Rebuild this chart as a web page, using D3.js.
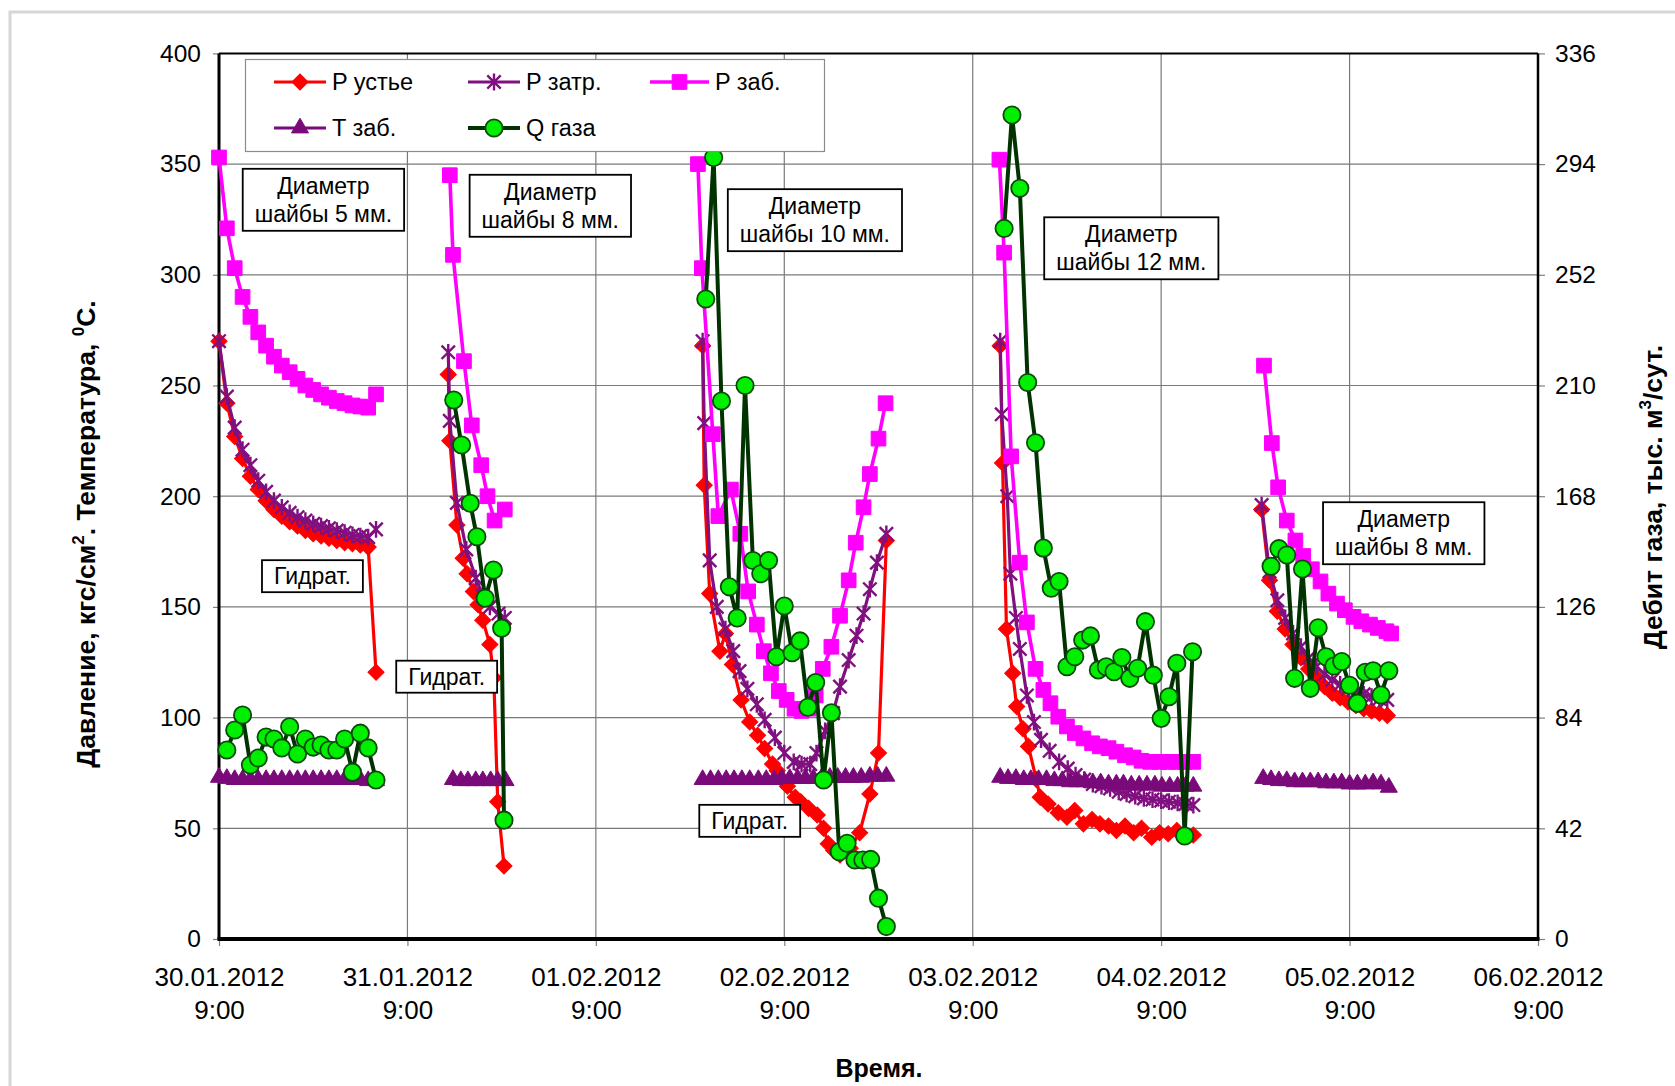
<!DOCTYPE html>
<html>
<head>
<meta charset="utf-8">
<script src="https://cdnjs.cloudflare.com/ajax/libs/d3/7.8.5/d3.min.js"></script>
<style>
  html, body { margin: 0; padding: 0; background: #fff; }
  svg { display: block; font-family: "Liberation Sans", Arial, sans-serif; }
</style>
</head>
<body>
<svg id="chart" width="1675" height="1086"></svg>
<script>
// ---- Axis settings -------------------------------------------------------
const dayLabels = ["30.01.2012", "31.01.2012", "01.02.2012", "02.02.2012",
                   "03.02.2012", "04.02.2012", "05.02.2012", "06.02.2012"];
const timeLabel = "9:00";
const leftTicks = [0, 50, 100, 150, 200, 250, 300, 350, 400];
const rightTicks = [0, 42, 84, 126, 168, 210, 252, 294, 336];

// Measurements: [hours since 30.01.2012 9:00, value]; one inner array per flow period.
const pUstye = [
  [[0,270],[1,242],[2,227],[3,217],[4,209],[5,203],[6,198],[7,194],[8,191],[9,188.5],[10,186.5],
   [11,184.5],[12,183],[13,182],[14,181],[15,180],[16,179],[17,178.5],[18,178],[19,177],[20,120.5]],
  [[29.2,255],[29.4,225],[30.3,187],[31.1,172],[31.6,165],[32.4,157],[33.0,151],[33.6,144],
   [34.5,133],[35.0,118],[35.5,62],[36.3,33]],
  [[61.6,268],[61.8,205],[62.5,156],[63.8,130],[64.5,138],[65.4,124],[66.5,108],[67.6,98],
   [68.6,92],[69.5,86],[70.5,79],[71.1,76],[72.4,69],[73.4,64],[74.1,62],[75.1,59],[76.2,56],
   [77.0,50],[77.6,43],[78.3,40],[79.1,38],[80.4,41],[81.6,48],[82.9,65.5],[84.0,84],[85.0,180]],
  [[99.5,268],[99.8,215],[100.3,140],[101.1,120],[101.6,105],[102.4,95],[103.1,87],[104.1,72],
   [104.6,64],[105.6,61],[106.9,57],[108,55],[109,58],[110.1,52],[111.2,54],[112.2,52],[113.3,51],
   [114.3,49],[115.4,51],[116.5,48],[117.5,50],[118.8,46],[119.8,48],[120.9,47.5],[122,49],
   [123,47.5],[124.1,47]],
  [[132.8,194],[133.8,162],[134.8,148],[135.8,140],[136.8,133],[137.8,127],[138.8,122],[139.8,118],
   [140.8,114],[141.8,111],[142.8,109],[143.8,107],[144.8,105.5],[145.8,104],[146.8,103],
   [147.8,102],[148.8,101]]
];

const pZatr = [
  [[0,270],[1,245],[2,231],[3,221],[4,214],[5,207],[6,202],[7,198],[8,195],[9,192.5],[10,190.5],
   [11,189],[12,187.5],[13,186.5],[14,185.5],[15,184.5],[16,183.5],[17,182.5],[18,182],[19,181.5],[20,185]],
  [[29.2,265],[29.4,234],[30.3,197],[31.5,176],[32.7,163],[33.6,155],[34.5,150],[35.6,147],[36.4,145]],
  [[61.6,270],[61.8,233],[62.5,171],[63.4,150],[64.5,140],[65.5,130],[66.3,121],[67.3,113],
   [68.5,106],[69.5,99],[70.8,91],[72,84],[73.2,80],[74.2,79],[75.3,79],[76.1,84],[77.2,94],
   [78.2,102],[79.1,114],[80.2,126],[81.2,137],[82.1,147],[82.9,158],[83.8,170],[85,183]],
  [[99.5,270],[99.7,237],[100.4,200],[100.8,165],[101.5,145],[102,131],[102.9,110],[103.8,98],
   [104.7,90],[105.8,85],[107,80],[108.1,77],[109.1,74],[110.2,72],[111.3,70],[112.4,69],
   [113.5,68],[114.6,66.5],[115.6,65.5],[116.7,64.5],[117.8,63.5],[118.9,63],[120,62.5],
   [121,62],[122.1,61.5],[123.1,61],[124.1,60.5]],
  [[132.8,196],[133.8,166],[134.8,153],[135.8,145],[136.8,138],[137.8,132],[138.8,127],[139.8,123],
   [140.8,119.5],[141.8,117],[142.8,115],[143.8,113],[144.8,111.5],[145.8,110.5],[146.8,109.5],
   [147.8,108.5],[148.8,108]]
];

const pZab = [
  [[0,353],[1,321],[2,303],[3,290],[4,281],[5,274],[6,268],[7,263],[8,259],[9,256],[10,253],
   [11,250],[12,248],[13,246],[14,244.5],[15,243],[16,242],[17,241],[18,240.5],[19,240],[20,246]],
  [[29.4,345],[29.8,309],[31.2,261],[32.2,232],[33.4,214],[34.2,200],[35.1,189],[36.4,194]],
  [[61.0,350],[61.5,303],[62.9,228],[63.6,191],[65.2,203],[66.4,183],[67.4,157],[68.5,142],
   [69.4,130],[70.3,120],[71.3,112],[72.3,108],[73.3,104],[74.2,103],[75.1,104],[76.0,110],
   [76.9,122],[78.0,132],[79.1,146],[80.2,162],[81.1,179],[82.1,195],[82.9,210],[84.0,226],[84.9,242]],
  [[99.4,352],[100,310],[100.9,218],[102,170],[102.9,143],[104,122],[105,112.5],[105.9,106.5],
   [106.9,100.4],[108,96],[109,93],[110.1,90.6],[111.2,88.4],[112.2,87],[113.3,86.2],[114.3,84.6],
   [115.4,83],[116.5,82],[117.5,80.5],[118.6,80],[119.8,80],[120.9,80],[122,80],[123,80],[124.1,80]],
  [[133.1,259],[134.1,224],[134.9,204],[136,189],[137.1,180],[138.1,173],[139.2,167],[140.3,161.5],
   [141.3,156],[142.4,151.5],[143.4,148.5],[144.5,145.5],[145.5,143.5],[146.6,142],[147.6,140.5],
   [148.7,139],[149.3,138]]
];

const tZab = [
  [[0,73],[1,72.5],[2,72],[3,72],[4,72],[5,72],[6,72],[7,72],[8,72],[9,72],[10,72],[11,72],
   [12,72],[13,72],[14,72],[15,72],[16,72],[17,72],[18,72],[19,71.5],[20,71.5]],
  [[29.8,72],[30.8,71.5],[31.7,71.5],[32.7,71.5],[33.6,71.5],[34.6,71.5],[35.5,71.5],[36.5,71.5]],
  [[61.6,72],[62.6,72],[63.6,72],[64.6,72],[65.6,72],[66.6,72],[67.6,72],[68.7,72],[69.7,72],
   [70.7,72],[71.7,72.5],[72.7,72.5],[73.7,72.5],[74.7,72.5],[75.7,72.5],[76.8,73],[77.8,73],
   [78.8,73],[79.8,73],[80.8,73],[81.8,73],[82.9,73.5],[83.9,73.5],[85.0,73.5]],
  [[99.5,73],[100.5,72.5],[101.5,72.5],[102.5,72],[103.4,72],[104.4,72],[105.4,72],[106.4,71.5],
   [107.4,71.5],[108.4,71],[109.3,71],[110.3,71],[111.3,70.5],[112.3,70.5],[113.3,70],[114.3,70],
   [115.2,70],[116.2,69.5],[117.2,69.5],[118.2,69.5],[119.2,69.5],[120.1,69],[121.1,69],[122.1,69],
   [123.1,69],[124.1,69]],
  [[133,72.5],[134,72],[135,71.5],[136,71.5],[137,71],[138,71],[139,71],[140,71],[141,70.5],
   [142,70.5],[143,70.5],[144,70],[145,70],[146,70],[147,70.5],[148,70],[149,68.5]]
];

// Gas rate, thousand m3/day (right axis)
const qGas = [
  [[1,71.7],[2,79.3],[3,85],[4,66],[5,68.7],[6,76.6],[7,75.9],[8,72.5],[9,80.5],[10,70.2],
   [11,75.9],[12,72.8],[13,73.6],[14,71.7],[15,71.7],[16,75.9],[17,63.3],[18,78.1],[19,72.5],[20,60.3]],
  [[29.9,204.5],[30.9,187.4],[32,165.3],[32.85,152.6],[33.9,129.3],[34.95,140],[36,117.9],[36.3,45.1]],
  [[62,242.8],[63,296.5],[64,204.1],[65,133.6],[66,121.8],[67,210],[68,143.6],[69,138.6],[70,143.6],
   [71,107.1],[72,126.3],[73,108.6],[74,113.1],[75,87.9],[76,97.3],[77,60.3],[78,85.8],[79,33.1],
   [80,36.3],[81,30],[82,30],[83,30.2],[84,15.5],[85,4.7]],
  [[100,269.6],[101,312.6],[102,284.8],[103,211.1],[104,188.3],[105,148.3],[106,133.1],[107,135.6],
   [108,103.3],[109,107.1],[110,113.4],[111,115],[112,102.1],[113,103.3],[114,101.4],[115,106.8],
   [116,98.9],[117,102.7],[118,120.4],[119,100.1],[120,83.7],[121,91.9],[122,104.6],[123,39.1],[124,109]],
  [[134,141.4],[135,148.1],[136,145.7],[137,98.9],[138,140.4],[139,95.1],[140,118.1],[141,107.1],
   [142,103.6],[143,105.3],[144,96.3],[145,89.4],[146,101.2],[147,101.8],[148,92.6],[149,101.8]]
];

// Text boxes: centre given in chart units [hours, left-axis value]
const noteLines = [
  ["Диаметр", "шайбы 5 мм."], ["Диаметр", "шайбы 8 мм."], ["Диаметр", "шайбы 10 мм."],
  ["Диаметр", "шайбы 12 мм."], ["Диаметр", "шайбы 8 мм."],
  ["Гидрат."], ["Гидрат."], ["Гидрат."]
];
const noteAnchors = [[13.3,334],[42.2,331.3],[75.9,324.8],[116.2,312.1],[150.9,183.4],
                     [11.9,164],[29.0,118.6],[67.6,53.5]];

// ---- Scales ----------------------------------------------------------------
const parseDay = d3.timeParse("%d.%m.%Y %H:%M");
const dayDates = dayLabels.map(d => parseDay(d + " " + timeLabel));
const START = dayDates[0];
const at = h => new Date(START.getTime() + h * 3600000);

const plot = { left: 219, right: 1538, top: 53.4, bottom: 939 };
const x = d3.scaleTime().domain([dayDates[0], dayDates[dayDates.length - 1]]).range([plot.left, plot.right]);
const yL = d3.scaleLinear().domain([0, 400]).range([plot.bottom, plot.top]);
const yR = d3.scaleLinear().domain([0, 336]).range([plot.bottom, plot.top]);

const svg = d3.select("#chart");

// light outer border of the chart object
svg.append("rect").attr("x", 10).attr("y", 12).attr("width", 1700).attr("height", 1100)
  .attr("fill", "none").attr("stroke", "#d6d6d6").attr("stroke-width", 3);

// ---- Gridlines -------------------------------------------------------------
const grid = svg.append("g").attr("stroke", "#7a7a7a").attr("stroke-width", 1.2);
grid.selectAll("line.h").data(leftTicks.slice(1, -1)).join("line")
  .attr("x1", plot.left).attr("x2", plot.right)
  .attr("y1", d => yL(d)).attr("y2", d => yL(d));
grid.selectAll("line.v").data(dayDates.slice(1, -1)).join("line")
  .attr("x1", d => x(d)).attr("x2", d => x(d))
  .attr("y1", plot.top).attr("y2", plot.bottom);

// ---- Axes ------------------------------------------------------------------
function styleAxis(g, size) {
  g.select(".domain").remove();
  g.selectAll(".tick line").attr("stroke", "#808080").attr("stroke-width", 1.2);
  g.selectAll(".tick text").attr("fill", "#000").attr("font-size", size)
    .attr("font-family", "'Liberation Sans', Arial, sans-serif");
}
svg.append("g").attr("transform", `translate(${plot.left},0)`)
  .call(d3.axisLeft(yL).tickValues(leftTicks).tickSize(6).tickPadding(12).tickFormat(d3.format("d")))
  .call(g => styleAxis(g, 24.5));
svg.append("g").attr("transform", `translate(${plot.right},0)`)
  .call(d3.axisRight(yR).tickValues(rightTicks).tickSize(7).tickPadding(10).tickFormat(d3.format("d")))
  .call(g => styleAxis(g, 24.5));
const xAxis = svg.append("g").attr("transform", `translate(0,${plot.bottom})`)
  .call(d3.axisBottom(x).tickValues(dayDates).tickSize(7).tickFormat(d3.timeFormat("%d.%m.%Y")))
  .call(g => styleAxis(g, 26));
xAxis.selectAll(".tick text").each(function(d, i) {
  const t = d3.select(this);
  t.text(null).attr("dy", null).attr("y", null);
  t.append("tspan").attr("x", 0).attr("y", 47).text(dayLabels[i]);
  t.append("tspan").attr("x", 0).attr("y", 80).text(timeLabel);
});

// plot frame
const frame = svg.append("g").attr("stroke", "#000");
frame.append("line").attr("x1", plot.left).attr("x2", plot.right).attr("y1", plot.top).attr("y2", plot.top).attr("stroke-width", 2);
frame.append("line").attr("x1", plot.right).attr("x2", plot.right).attr("y1", plot.top).attr("y2", plot.bottom).attr("stroke-width", 2.5);
frame.append("line").attr("x1", plot.left).attr("x2", plot.left).attr("y1", plot.top).attr("y2", plot.bottom).attr("stroke-width", 3);
frame.append("line").attr("x1", plot.left - 1.5).attr("x2", plot.right + 1.5).attr("y1", plot.bottom).attr("y2", plot.bottom).attr("stroke-width", 4);

// ---- Markers ---------------------------------------------------------------
const asterisk = {
  draw(ctx, size) {
    const r = Math.sqrt(size) / 2;
    ctx.moveTo(-r, -r); ctx.lineTo(r, r);
    ctx.moveTo(-r, r); ctx.lineTo(r, -r);
    ctx.moveTo(0, -r * 1.25); ctx.lineTo(0, r * 1.25);
  }
};
const markerKinds = {
  diamond: { path: d3.symbol().type(d3.symbolSquare).size(130)(), rotate: 45, fill: c => c, stroke: c => c, sw: 1 },
  star:    { path: d3.symbol().type(asterisk).size(180)(), rotate: 0, fill: () => "none", stroke: c => c, sw: 2.4 },
  square:  { path: d3.symbol().type(d3.symbolSquare).size(215)(), rotate: 0, fill: c => c, stroke: c => c, sw: 1 },
  triangle:{ path: d3.symbol().type(d3.symbolTriangle).size(125)(), rotate: 0, fill: c => c, stroke: c => c, sw: 1 },
  circle:  { path: d3.symbol().type(d3.symbolCircle).size(235)(), rotate: 0, fill: () => "#00ee00", stroke: () => "#0a4a0a", sw: 1.8 }
};

const seriesList = [
  { name: "P устье", data: pUstye, y: yL, color: "#ff0000", width: 3.2, marker: "diamond" },
  { name: "P затр.", data: pZatr, y: yL, color: "#80107f", width: 3.2, marker: "star" },
  { name: "P заб.", data: pZab, y: yL, color: "#ff00ff", width: 3.6, marker: "square" },
  { name: "T заб.", data: tZab, y: yL, color: "#7a0a7a", width: 3.2, marker: "triangle" },
  { name: "Q газа", data: qGas, y: yR, color: "#003300", width: 4, marker: "circle" }
];

function drawMarker(g, kind, color, cx, cy) {
  const m = markerKinds[kind];
  g.append("path").attr("d", m.path)
    .attr("transform", `translate(${cx},${cy}) rotate(${m.rotate})`)
    .attr("fill", m.fill(color)).attr("stroke", m.stroke(color)).attr("stroke-width", m.sw);
}

const seriesLayer = svg.append("g");
seriesList.forEach(s => {
  const g = seriesLayer.append("g");
  const line = d3.line().x(d => x(at(d[0]))).y(d => s.y(d[1]));
  s.data.forEach(seg => {
    g.append("path").attr("d", line(seg)).attr("fill", "none")
      .attr("stroke", s.color).attr("stroke-width", s.width).attr("stroke-linejoin", "round");
  });
  s.data.forEach(seg => seg.forEach(d => drawMarker(g, s.marker, s.color, x(at(d[0])), s.y(d[1]))));
});

// ---- Legend ----------------------------------------------------------------
const legend = svg.append("g");
legend.append("rect").attr("x", 245.5).attr("y", 59.5).attr("width", 579).attr("height", 92)
  .attr("fill", "#fff").attr("stroke", "#8c8c8c").attr("stroke-width", 1.2);
const legendSlots = [[274, 82], [468, 82], [650, 82], [274, 128], [468, 128]];
seriesList.forEach((s, i) => {
  const [lx, ly] = legendSlots[i];
  const len = i === 2 ? 59 : 52;
  legend.append("line").attr("x1", lx).attr("x2", lx + len).attr("y1", ly).attr("y2", ly)
    .attr("stroke", s.color).attr("stroke-width", s.width);
  drawMarker(legend, s.marker, s.color, lx + len / 2, ly);
  legend.append("text").attr("x", lx + len + 6).attr("y", ly).attr("dy", "0.36em")
    .attr("font-size", 23.5).text(s.name);
});

// ---- Text boxes ------------------------------------------------------------
const notes = svg.append("g");
noteLines.forEach((lines, i) => {
  const cx = x(at(noteAnchors[i][0])), cy = yL(noteAnchors[i][1]);
  const g = notes.append("g");
  const box = g.append("rect").attr("fill", "#fff").attr("stroke", "#000").attr("stroke-width", 1.8);
  const lh = 28;
  const t = g.append("text").attr("font-size", 23).attr("text-anchor", "middle");
  lines.forEach((ln, k) => {
    t.append("tspan").attr("x", cx).attr("y", cy + (k - (lines.length - 1) / 2) * lh).attr("dy", "0.36em").text(ln);
  });
  const bb = t.node().getBBox();
  const padX = 12, padY = lines.length > 1 ? 4 : 3;
  box.attr("x", bb.x - padX).attr("y", bb.y - padY)
    .attr("width", bb.width + 2 * padX).attr("height", bb.height + 2 * padY);
});

// ---- Axis titles -----------------------------------------------------------
const leftTitle = svg.append("text").attr("transform", "translate(95,534) rotate(-90)")
  .attr("text-anchor", "middle").attr("font-weight", "bold").attr("font-size", 26.5);
leftTitle.append("tspan").text("Давление, кгс/см");
leftTitle.append("tspan").attr("dy", -11).attr("font-size", 17).text("2");
leftTitle.append("tspan").attr("dy", 11).text(". Температура, ");
leftTitle.append("tspan").attr("dy", -11).attr("font-size", 17).text("0");
leftTitle.append("tspan").attr("dy", 11).text("С.");

const rightTitle = svg.append("text").attr("transform", "translate(1662,497) rotate(-90)")
  .attr("text-anchor", "middle").attr("font-weight", "bold").attr("font-size", 26.5);
rightTitle.append("tspan").text("Дебит газа, тыс. м");
rightTitle.append("tspan").attr("dy", -11).attr("font-size", 17).text("3");
rightTitle.append("tspan").attr("dy", 11).text("/сут.");

svg.append("text").attr("x", 879).attr("y", 1077).attr("text-anchor", "middle")
  .attr("font-weight", "bold").attr("font-size", 25).text("Время.");
</script>
</body>
</html>
